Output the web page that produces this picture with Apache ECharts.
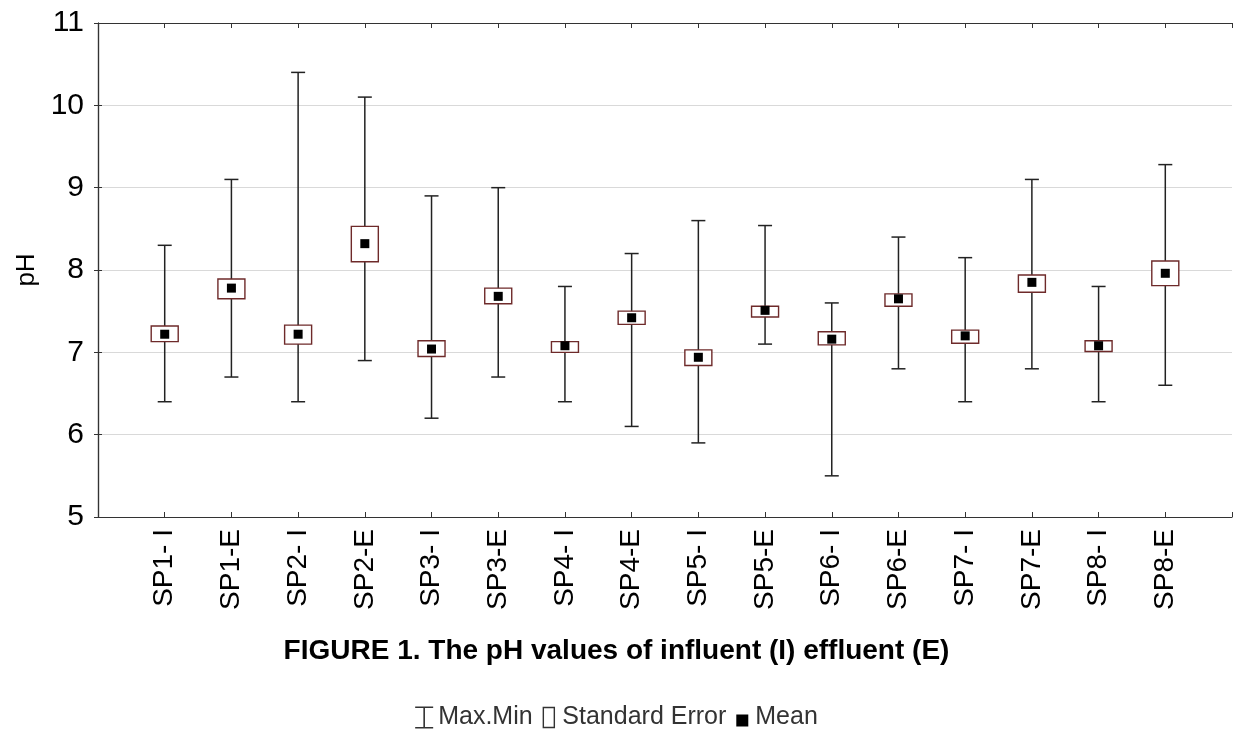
<!DOCTYPE html>
<html>
<head>
<meta charset="utf-8">
<script src="https://cdn.jsdelivr.net/npm/echarts@6/dist/echarts.min.js"></script>
<style>
  html, body { margin: 0; padding: 0; background: #fff; }
  #chart { width: 1233px; height: 732px; }
</style>
</head>
<body>
<div id="chart"></div>
<script>
// Sampling points: influent (I) and effluent (E)
const categories = ['SP1- I', 'SP1-E', 'SP2- I', 'SP2-E', 'SP3- I', 'SP3-E', 'SP4- I', 'SP4-E',
                    'SP5- I', 'SP5-E', 'SP6- I', 'SP6-E', 'SP7- I', 'SP7-E', 'SP8- I', 'SP8-E'];
// pH statistics per sampling point
const maxValues  = [8.3, 9.1, 10.4, 10.1, 8.9, 9.0, 7.8, 8.2, 8.6, 8.54, 7.6, 8.4, 8.15, 9.1, 7.8, 9.28];
const minValues  = [6.4, 6.7, 6.4, 6.9, 6.2, 6.7, 6.4, 6.1, 5.9, 7.1, 5.5, 6.8, 6.4, 6.8, 6.4, 6.6];
const seUpper    = [7.32, 7.89, 7.33, 8.53, 7.14, 7.78, 7.13, 7.50, 7.03, 7.56, 7.25, 7.71, 7.27, 7.94, 7.14, 8.11];
const seLower    = [7.13, 7.65, 7.10, 8.10, 6.95, 7.59, 7.00, 7.34, 6.84, 7.43, 7.09, 7.56, 7.11, 7.73, 7.01, 7.81];
const meanValues = [7.22, 7.78, 7.22, 8.32, 7.04, 7.68, 7.08, 7.42, 6.94, 7.51, 7.16, 7.65, 7.20, 7.85, 7.08, 7.96];
const yTicks = [5, 6, 7, 8, 9, 10, 11];

const FONT = "'Liberation Sans', Arial, sans-serif";
const pos = categories.map((_, i) => i + 1);

const whiskerData = pos.map((x, i) => [x, minValues[i], maxValues[i]]);
const boxData = pos.map((x, i) => [x, seLower[i], seUpper[i]]);
const meanData = pos.map((x, i) => [x, meanValues[i]]);

// Max/min whisker: vertical line with horizontal caps
function renderWhisker(params, api) {
  const x = api.value(0);
  const lo = api.coord([x, api.value(1)]);
  const hi = api.coord([x, api.value(2)]);
  const cap = 7;
  const st = { stroke: '#222', lineWidth: 1.5 };
  return {
    type: 'group',
    children: [
      { type: 'line', shape: { x1: lo[0], y1: lo[1], x2: hi[0], y2: hi[1] }, style: st },
      { type: 'line', shape: { x1: lo[0] - cap, y1: lo[1], x2: lo[0] + cap, y2: lo[1] }, style: st },
      { type: 'line', shape: { x1: hi[0] - cap, y1: hi[1], x2: hi[0] + cap, y2: hi[1] }, style: st }
    ]
  };
}

// Standard error box: white-filled rectangle with a dark red outline
function renderBox(params, api) {
  const x = api.value(0);
  const lo = api.coord([x, api.value(1)]);
  const hi = api.coord([x, api.value(2)]);
  const w = 27;
  return {
    type: 'rect',
    shape: { x: lo[0] - w / 2, y: hi[1], width: w, height: lo[1] - hi[1] },
    style: { fill: '#fff', stroke: '#6e2a2a', lineWidth: 1.4 }
  };
}

const chart = echarts.init(document.getElementById('chart'), null, { renderer: 'canvas' });
chart.setOption({
  animation: false,
  backgroundColor: '#fff',
  title: {
    text: 'FIGURE 1. The pH values of influent (I) effluent (E)',
    left: 'center',
    top: 632,
    textStyle: { fontFamily: FONT, fontSize: 28, fontWeight: 'bold', color: '#000' }
  },
  legend: {
    top: 700,
    left: 'center',
    itemWidth: 18,
    itemHeight: 22,
    itemGap: 6,
    textStyle: { fontFamily: FONT, fontSize: 25, color: '#333' },
    data: [
      { name: 'Max.Min', icon: 'path://M0,0H18V1.6H9.8V20.4H18V22H0V20.4H8.2V1.6H0Z',
        itemStyle: { color: '#333', borderWidth: 0 } },
      { name: 'Standard Error', icon: 'path://M0,0L0,0M18,22L18,22M4,1H15V21H4Z',
        itemStyle: { color: '#fff', borderColor: '#333', borderWidth: 1.4 } },
      { name: 'Mean', icon: 'path://M0,0L0,0M18,22L18,22M4,8H16V20H4Z',
        itemStyle: { color: '#000', borderWidth: 0 } }
    ]
  },
  grid: { left: 98, right: 1, top: 23, bottom: 215 },
  xAxis: [
    {
      type: 'value', min: 0, max: 17, interval: 1, position: 'bottom',
      axisLine: { show: true, lineStyle: { color: '#333', width: 1.2 } },
      axisTick: { show: true, inside: true, length: 5, lineStyle: { color: '#333' } },
      splitLine: { show: false },
      axisLabel: {
        rotate: 90, margin: 12, fontFamily: FONT, fontSize: 28, color: '#000',
        formatter: v => (v >= 1 && v <= categories.length) ? categories[v - 1] : ''
      }
    },
    {
      type: 'value', min: 0, max: 17, interval: 1, position: 'top',
      axisLine: { show: true, lineStyle: { color: '#333', width: 1.2 } },
      axisTick: { show: true, inside: true, length: 5, lineStyle: { color: '#333' } },
      splitLine: { show: false },
      axisLabel: { show: false }
    }
  ],
  yAxis: [
    {
      type: 'value', min: yTicks[0], max: yTicks[yTicks.length - 1], interval: 1,
      name: 'pH', nameLocation: 'middle', nameGap: 58, nameRotate: 90,
      nameTextStyle: { fontFamily: FONT, fontSize: 26, color: '#000' },
      axisLine: { show: true, lineStyle: { color: '#333', width: 1.2 } },
      axisTick: { show: true, inside: true, length: 4, lineStyle: { color: '#333' } },
      splitLine: { show: true, lineStyle: { color: '#d9d9d9', width: 1.2 } },
      axisLabel: { margin: 14, fontFamily: FONT, fontSize: 30, color: '#000' }
    },
    {
      type: 'value', min: yTicks[0], max: yTicks[yTicks.length - 1], interval: 1, position: 'right',
      axisLine: { show: true, lineStyle: { color: '#333', width: 1.2 } },
      axisTick: { show: true, inside: true, length: 4, lineStyle: { color: '#333' } },
      splitLine: { show: false },
      axisLabel: { show: false }
    }
  ],
  series: [
    {
      name: 'Max.Min', type: 'custom', renderItem: renderWhisker,
      data: whiskerData, encode: { x: 0, y: [1, 2] }, z: 2,
      itemStyle: { color: '#333' }
    },
    {
      name: 'Standard Error', type: 'custom', renderItem: renderBox,
      data: boxData, encode: { x: 0, y: [1, 2] }, z: 3,
      itemStyle: { color: '#fff', borderColor: '#333' }
    },
    {
      name: 'Mean', type: 'scatter', symbol: 'rect', symbolSize: 9,
      data: meanData, z: 4, itemStyle: { color: '#000', opacity: 1 }
    }
  ]
});
</script>
</body>
</html>
